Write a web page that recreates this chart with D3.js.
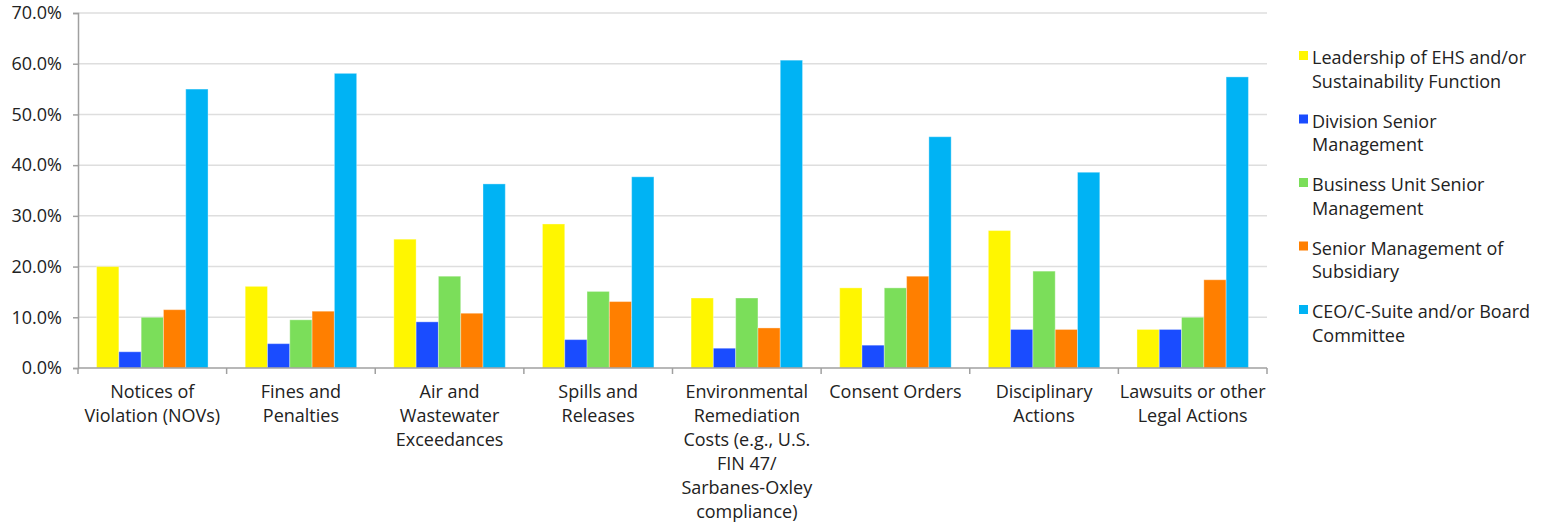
<!DOCTYPE html>
<html>
<head>
<meta charset="utf-8">
<script src="https://cdn.jsdelivr.net/npm/d3@7"></script>
<style>
  html, body { margin: 0; padding: 0; background: #fff; }
  svg { display: block; font-family: "Open Sans", Lato, sans-serif; }
</style>
</head>
<body>
<svg id="chart" width="1550" height="527"></svg>
<script>
// Categories (line breaks mark how each axis label wraps)
const categories = [
  "Notices of\nViolation (NOVs)",
  "Fines and\nPenalties",
  "Air and\nWastewater\nExceedances",
  "Spills and\nReleases",
  "Environmental\nRemediation\nCosts (e.g., U.S.\nFIN 47/\nSarbanes-Oxley\ncompliance)",
  "Consent Orders",
  "Disciplinary\nActions",
  "Lawsuits or other\nLegal Actions"
];

const seriesNames = [
  "Leadership of EHS and/or\nSustainability Function",
  "Division Senior\nManagement",
  "Business Unit Senior\nManagement",
  "Senior Management of\nSubsidiary",
  "CEO/C-Suite and/or Board\nCommittee"
];

// Percent values per series, one entry per category
const leadershipEHS   = [20.0, 16.1, 25.4, 28.4, 13.8, 15.8, 27.1,  7.6];
const divisionSenior  = [ 3.2,  4.8,  9.1,  5.6,  3.9,  4.5,  7.6,  7.6];
const businessUnit    = [10.0,  9.5, 18.1, 15.1, 13.8, 15.8, 19.1, 10.0];
const subsidiary      = [11.5, 11.2, 10.8, 13.1,  7.9, 18.1,  7.6, 17.4];
const ceoBoard        = [55.0, 58.1, 36.3, 37.7, 60.7, 45.6, 38.6, 57.4];

const seriesValues = [leadershipEHS, divisionSenior, businessUnit, subsidiary, ceoBoard];
const colors = ["#FFF600", "#1A4CFF", "#7BDE5A", "#FF7F00", "#00B3F4"];

const yTicks = [0, 10, 20, 30, 40, 50, 60, 70];

const FONT_SIZE = 18;

const svg = d3.select("#chart");
const margin = { left: 78, right: 283, top: 13, bottom: 159 };
const width = 1550, height = 527;
const plotW = width - margin.left - margin.right;
const plotH = height - margin.top - margin.bottom;

const g = svg.append("g").attr("transform", `translate(${margin.left},${margin.top})`);

const x0 = d3.scaleBand().domain(d3.range(categories.length)).range([0, plotW]).paddingInner(0).paddingOuter(0);
const x1 = d3.scaleBand().domain(d3.range(seriesNames.length))
  .range([x0.bandwidth() * 0.125, x0.bandwidth() * 0.875]);
const y = d3.scaleLinear().domain([0, 70]).range([plotH, 0]);

// Horizontal gridlines
g.append("g").selectAll("line").data(yTicks.filter(t => t > 0)).join("line")
  .attr("x1", 0).attr("x2", plotW)
  .attr("y1", d => y(d)).attr("y2", d => y(d))
  .attr("stroke", "#dedede").attr("stroke-width", 1.5);

// Bars
const groups = g.append("g").selectAll("g").data(categories).join("g")
  .attr("transform", (d, i) => `translate(${x0(i)},0)`);
groups.selectAll("rect")
  .data((d, i) => seriesValues.map((s, k) => ({ k, v: s[i] })))
  .join("rect")
  .attr("x", d => x1(d.k))
  .attr("width", x1.bandwidth())
  .attr("y", d => y(d.v))
  .attr("height", d => y(0) - y(d.v))
  .attr("fill", d => colors[d.k])
  .attr("stroke", "#ffffff").attr("stroke-opacity", 0.35).attr("stroke-width", 1);

// Y axis
const yAxis = g.append("g")
  .call(d3.axisLeft(y).tickValues(yTicks).tickSize(5).tickPadding(11)
    .tickFormat(d => d.toFixed(1) + "%"));
yAxis.select(".domain").attr("stroke", "#a0a0a0").attr("stroke-width", 1.5);
yAxis.selectAll(".tick line").attr("stroke", "#a0a0a0").attr("stroke-width", 1.5);
yAxis.selectAll("text").attr("font-size", FONT_SIZE).attr("fill", "#222")
  .attr("font-family", "'Open Sans', sans-serif");

// X axis line with boundary ticks
const xAxisG = g.append("g").attr("transform", `translate(0,${plotH})`);
xAxisG.append("line").attr("x1", 0).attr("x2", plotW).attr("y1", 0).attr("y2", 0)
  .attr("stroke", "#a0a0a0").attr("stroke-width", 1.5);
xAxisG.selectAll("line.tick").data(d3.range(categories.length + 1)).join("line")
  .attr("class", "tick")
  .attr("x1", i => i * x0.step()).attr("x2", i => i * x0.step())
  .attr("y1", 0).attr("y2", 6)
  .attr("stroke", "#a0a0a0").attr("stroke-width", 1.5);

// Category labels
xAxisG.selectAll("text.cat").data(categories).join("text")
  .attr("class", "cat")
  .attr("x", (d, i) => x0(i) + x0.bandwidth() / 2)
  .attr("y", 30)
  .attr("text-anchor", "middle")
  .attr("font-size", FONT_SIZE).attr("fill", "#222")
  .each(function (d) {
    const t = d3.select(this);
    d.split("\n").forEach((line, j) => {
      t.append("tspan").attr("x", t.attr("x")).attr("dy", j === 0 ? 0 : 24).text(line);
    });
  });

// Legend
const legend = svg.append("g").attr("transform", "translate(1299,51)");
const items = legend.selectAll("g").data(seriesNames).join("g")
  .attr("transform", (d, i) => `translate(0,${i * 63.5})`);
items.append("rect").attr("width", 9).attr("height", 9).attr("fill", (d, i) => colors[i]);
items.append("text")
  .attr("x", 13).attr("y", 13)
  .attr("font-size", FONT_SIZE).attr("fill", "#222")
  .each(function (d) {
    const t = d3.select(this);
    d.split("\n").forEach((line, j) => {
      t.append("tspan").attr("x", 13).attr("dy", j === 0 ? 0 : 23.5).text(line);
    });
  });
</script>
</body>
</html>
